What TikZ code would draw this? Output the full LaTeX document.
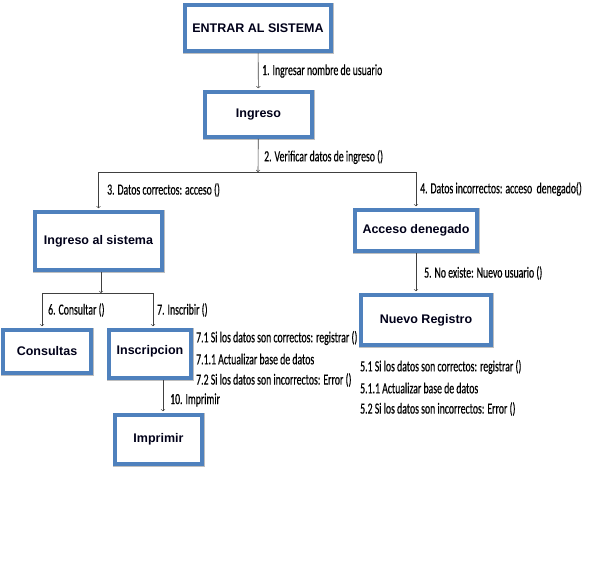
\documentclass[tikz,border=0pt]{standalone}
\usepackage{fontspec}
\setmainfont{Liberation Sans}
\newfontfamily\lblfont[FakeStretch=0.63,FakeBold=0.4]{Carlito}
\usetikzlibrary{calc}
\definecolor{boxblue}{RGB}{79,129,189}

\begin{document}
\begin{tikzpicture}[x=1pt,y=-1pt,
	caja/.style={draw=boxblue,line width=3.5pt,fill=white,preaction={draw=black!25,line width=5pt},
		font=\bfseries\fontsize{12.5}{14}\selectfont,text=black!90!blue,inner sep=0pt},
	flecha/.style={->,line width=0.6pt,black!75,shorten >=2pt},
	etiqueta/.style={anchor=west,inner sep=0pt,font=\lblfont\fontsize{15.5}{17}\selectfont}]
	
	\useasboundingbox (0,0) rectangle (598,566);
	
	% Define the boxes
	\node[caja,minimum width=146pt,minimum height=46pt] (entrar) at (258,28) {ENTRAR AL SISTEMA};
	\node[caja,minimum width=107pt,minimum height=45pt] (ingreso) at (258.5,114.5) {Ingreso};
	\node[caja,minimum width=127pt,minimum height=58pt] (sistema) at (98.5,241) {Ingreso al sistema};
	\node[caja,minimum width=122pt,minimum height=41pt] (denegado) at (416,230.5) {Acceso denegado};
	\node[caja,minimum width=130pt,minimum height=50pt] (registro) at (426,320) {Nuevo Registro};
	\node[caja,minimum width=88pt,minimum height=43pt] (consultas) at (47,351.5) {Consultas};
	\node[caja,minimum width=82pt,minimum height=48pt] (inscripcion) at (150,354) {\raisebox{8pt}{Inscripcion}};
	\node[caja,minimum width=87pt,minimum height=49pt] (imprimir) at (158.5,439.5) {Imprimir};
	
	% Split points of the connectors
	\coordinate (split1) at (258,172);
	\coordinate (split2) at (101,293);
	
	% Draw the connectors
	\draw[flecha] (entrar) -- (ingreso);
	\draw[flecha,shorten >=0pt] (ingreso) -- (split1);
	\draw[flecha] (split1) -| (sistema.north);
	\draw[flecha] (split1) -| (denegado.north);
	\draw[flecha,shorten >=0pt] (sistema.south -| split2) -- (split2);
	\draw[flecha] (split2) -| ([xshift=-5pt]consultas.north);
	\draw[flecha] (split2) -| ([xshift=3pt]inscripcion.north);
	\draw[flecha] (denegado) -- (denegado |- registro.north);
	\draw[flecha] ([xshift=4.5pt]imprimir.north |- inscripcion.south) -- ([xshift=4.5pt]imprimir.north);
	
	% Label the messages
	\node[etiqueta] (m1) at (262,71) {1. Ingresar nombre de usuario};
	\node[etiqueta] (m2) at (264,157) {2. Verificar datos de ingreso ()};
	\node[etiqueta] (m3) at (107,190) {3. Datos correctos: acceso ()};
	\node[etiqueta] (m4) at (420,189) {4. Datos incorrectos: acceso\ \ denegado()};
	\node[etiqueta] (m5) at (424,273) {5. No existe: Nuevo usuario ()};
	\node[etiqueta] (m6) at (48,310) {6. Consultar ()};
	\node[etiqueta] (m7) at (157,310) {7. Inscribir ()};
	\node[etiqueta] (m71) at (196,338) {7.1 Si los datos son correctos: registrar ()};
	\node[etiqueta] (m711) at (196,359) {7.1.1 Actualizar base de datos};
	\node[etiqueta] (m72) at (196,380) {7.2 Si los datos son incorrectos: Error ()};
	\node[etiqueta] (m10) at (170,400) {10. Imprimir};
	\node[etiqueta] (m51) at (360,367) {5.1 Si los datos son correctos: registrar ()};
	\node[etiqueta] (m511) at (360,388) {5.1.1 Actualizar base de datos};
	\node[etiqueta] (m52) at (360,409) {5.2 Si los datos son incorrectos: Error ()};
	
\end{tikzpicture}
\end{document}
